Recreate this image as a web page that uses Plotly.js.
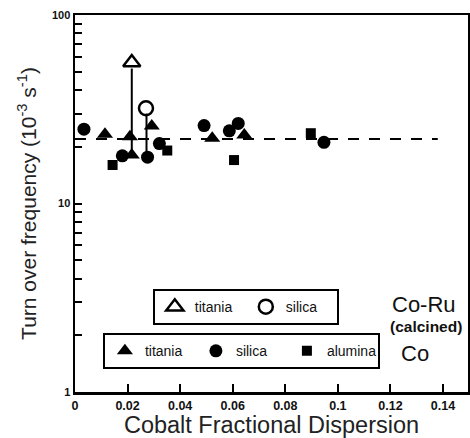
<!DOCTYPE html>
<html>
<head>
<meta charset="utf-8">
<script src="https://cdn.plot.ly/plotly-3.0.1.min.js"></script>
<style>html,body{margin:0;padding:0;background:#fff;}#chart{width:470px;height:438px;}</style>
</head>
<body>
<div id="chart"></div>
<script>
// Co catalysts (filled symbols)
var coTitaniaX = [0.0114, 0.0209, 0.0292, 0.0216, 0.0522, 0.0644];
var coTitaniaY = [23.3, 22.6, 25.8, 18.1, 22.2, 23.1];
var coSilicaX = [0.0034, 0.0180, 0.0276, 0.0321, 0.0491, 0.0587, 0.0621, 0.0947];
var coSilicaY = [24.8, 17.9, 17.6, 20.8, 25.9, 24.3, 26.6, 21.1];
var coAluminaX = [0.0143, 0.0351, 0.0605, 0.0897];
var coAluminaY = [16.0, 19.1, 17.0, 23.6];
// Co-Ru (calcined) catalysts (open symbols)
var coRuTitaniaX = [0.0216];
var coRuTitaniaY = [56];
var coRuSilicaX = [0.0270];
var coRuSilicaY = [32];
// connecting lines Co-Ru -> Co
var link1X = [0.0216, 0.0216];
var link1Y = [52, 18.5];
var link2X = [0.0272, 0.0272];
var link2Y = [30, 17.6];
// average (dashed) line
var avgX = [0.0, 0.138];
var avgY = [22, 22];

var xTicks = [0, 0.02, 0.04, 0.06, 0.08, 0.1, 0.12, 0.14];
var xTickText = ['0', '0.02', '0.04', '0.06', '0.08', '0.1', '0.12', '0.14'];
var yTicks = [1,2,3,4,5,6,7,8,9,10,20,30,40,50,60,70,80,90,100];
var yTickText = ['1',' ',' ',' ',' ',' ',' ',' ',' ','10',' ',' ',' ',' ',' ',' ',' ',' ','100'];

var FONT = 'Liberation Sans, Arial, sans-serif';

var traces = [
  {x: avgX, y: avgY, mode: 'lines', line: {color: '#000', width: 2, dash: '11px,10px'}, showlegend: false, hoverinfo: 'skip'},
  {x: link1X, y: link1Y, mode: 'lines', line: {color: '#000', width: 2}, showlegend: false, hoverinfo: 'skip'},
  {x: link2X, y: link2Y, mode: 'lines', line: {color: '#000', width: 2}, showlegend: false, hoverinfo: 'skip'},
  {x: coRuTitaniaX, y: coRuTitaniaY, mode: 'markers', name: 'titania', legend: 'legend',
   marker: {symbol: 'triangle-up-open', size: 15, color: '#000', line: {width: 2.5, color: '#000'}}},
  {x: coRuSilicaX, y: coRuSilicaY, mode: 'markers', name: 'silica', legend: 'legend',
   marker: {symbol: 'circle-open', size: 14, color: '#000', line: {width: 2.5, color: '#000'}}},
  {x: coTitaniaX, y: coTitaniaY, mode: 'markers', name: 'titania', legend: 'legend2',
   marker: {symbol: 'triangle-up', size: 14, color: '#000'}},
  {x: coSilicaX, y: coSilicaY, mode: 'markers', name: 'silica', legend: 'legend2',
   marker: {symbol: 'circle', size: 13, color: '#000'}},
  {x: coAluminaX, y: coAluminaY, mode: 'markers', name: 'alumina', legend: 'legend2',
   marker: {symbol: 'square', size: 10, color: '#000'}}
];

var layout = {
  width: 470, height: 438,
  margin: {l: 75, r: 2, t: 15, b: 46},
  paper_bgcolor: '#fff', plot_bgcolor: '#fff',
  font: {family: FONT, color: '#111'},
  showlegend: true,
  xaxis: {
    range: [0, 0.1495], tickvals: xTicks, ticktext: xTickText,
    ticks: 'inside', ticklen: 8, tickwidth: 2, tickcolor: '#000',
    showline: true, linewidth: 2.5, linecolor: '#000', mirror: true,
    showgrid: false, zeroline: false,
    tickfont: {size: 12.5, weight: 'bold', color: '#111'},
    title: {text: 'Cobalt Fractional Dispersion', font: {size: 23.5, color: '#222'}, standoff: 0}
  },
  yaxis: {
    type: 'log', range: [0, 2], tickvals: yTicks, ticktext: yTickText,
    ticks: 'inside', ticklen: 7, tickwidth: 2, tickcolor: '#000',
    showline: true, linewidth: 2.5, linecolor: '#000', mirror: true,
    showgrid: false, zeroline: false,
    tickfont: {size: 11, weight: 'bold', color: '#111'},
    title: {text: 'Turn over frequency (10<sup>-3</sup> s<sup>-1</sup>)', font: {size: 21, color: '#222'}, standoff: 10}
  },
  legend: {
    orientation: 'h', x: 0.198, y: 0.273, xanchor: 'left', yanchor: 'top',
    bordercolor: '#000', borderwidth: 2, bgcolor: '#fff',
    font: {size: 14, color: '#111'}, entrywidth: 46, itemwidth: 30
  },
  legend2: {
    orientation: 'h', x: 0.071, y: 0.156, xanchor: 'left', yanchor: 'top',
    bordercolor: '#000', borderwidth: 2, bgcolor: '#fff',
    font: {size: 14, color: '#111'}, entrywidth: 46, itemwidth: 30
  },
  annotations: [
    {xref: 'paper', yref: 'paper', x: 0.888, y: 0.231, text: 'Co-Ru', showarrow: false,
     font: {size: 22, color: '#111'}, xanchor: 'center', yanchor: 'middle'},
    {xref: 'paper', yref: 'paper', x: 0.893, y: 0.175, text: '(calcined)', showarrow: false,
     font: {size: 15.5, weight: 'bold', color: '#111'}, xanchor: 'center', yanchor: 'middle'},
    {xref: 'paper', yref: 'paper', x: 0.865, y: 0.103, text: 'Co', showarrow: false,
     font: {size: 22, color: '#111'}, xanchor: 'center', yanchor: 'middle'}
  ]
};

Plotly.newPlot('chart', traces, layout, {displayModeBar: false, staticPlot: true});
</script>
</body>
</html>
